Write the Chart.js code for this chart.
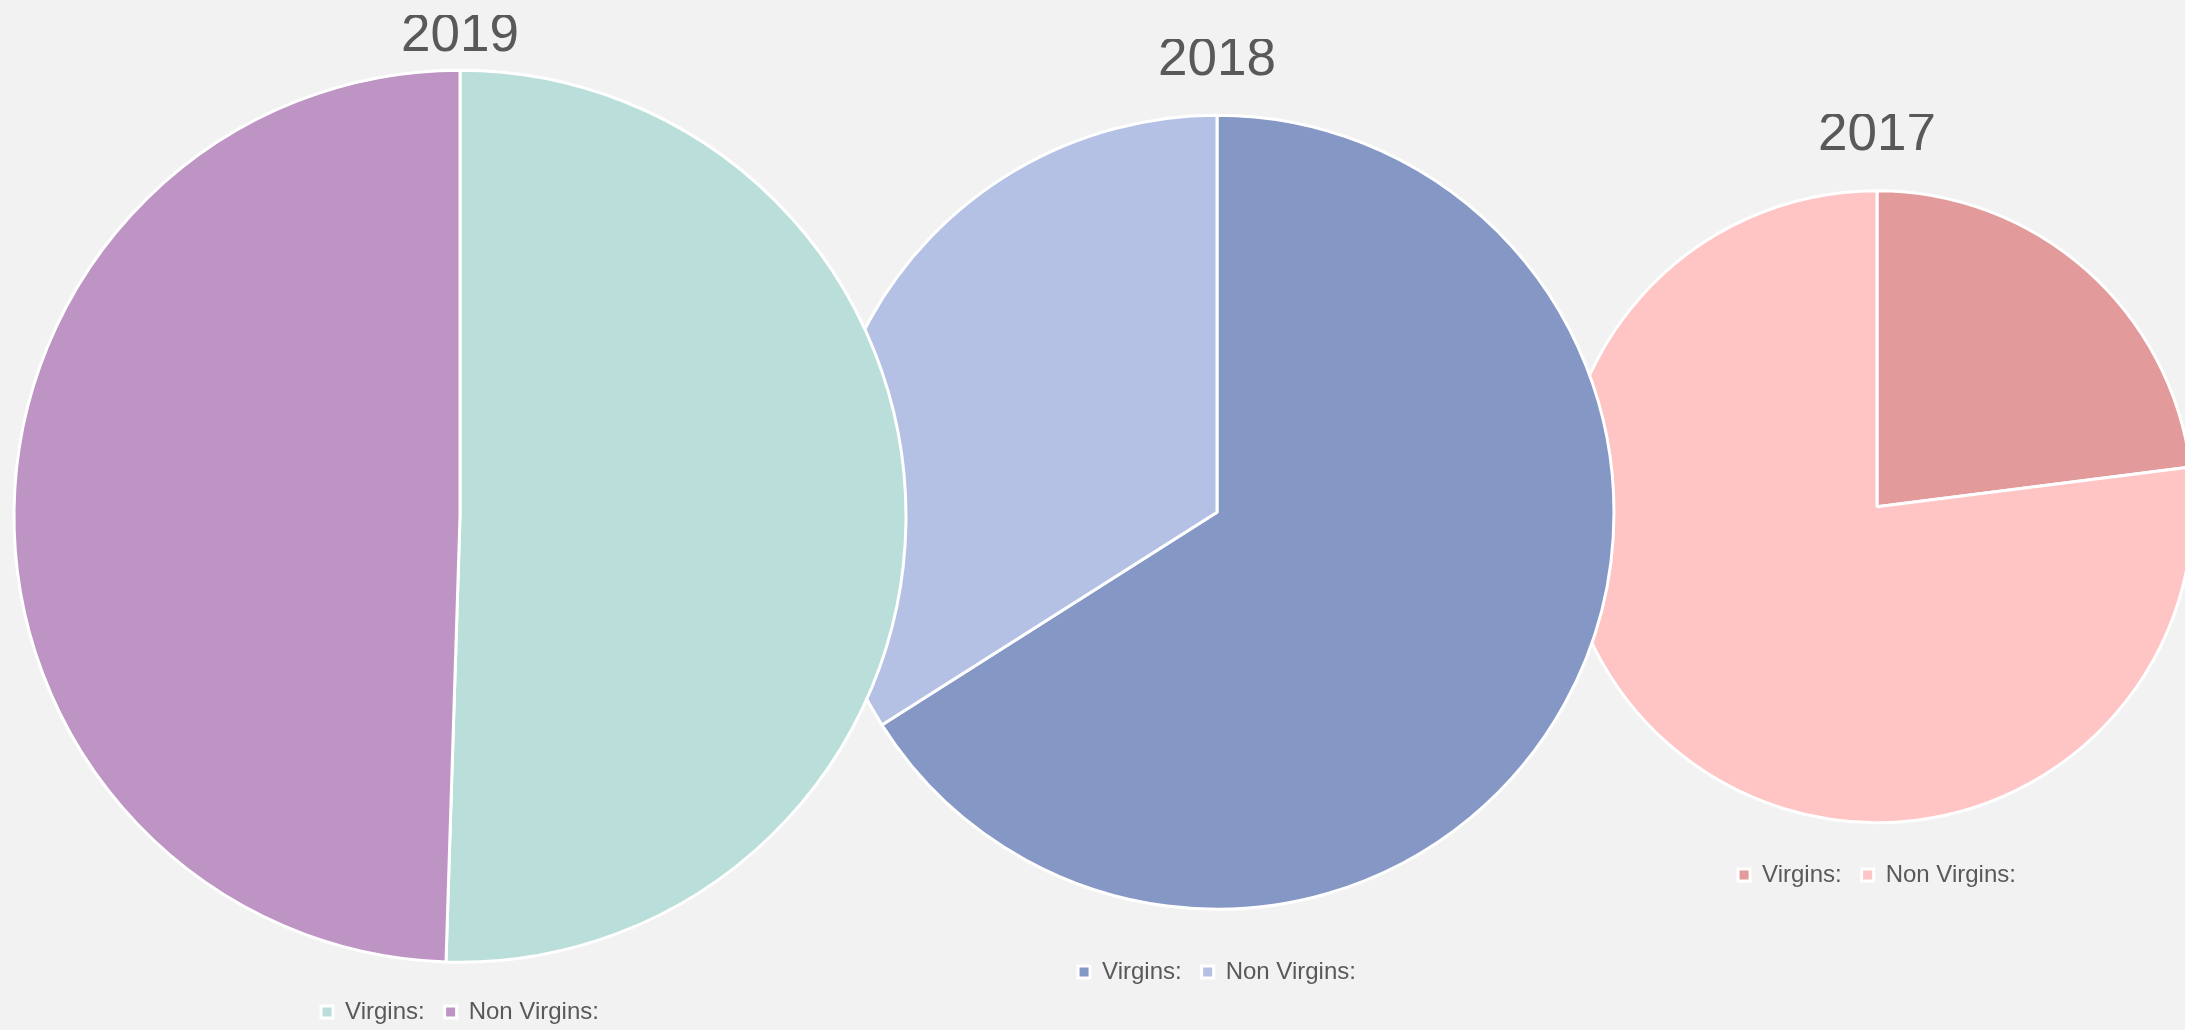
<!DOCTYPE html>
<html>
<head>
<meta charset="utf-8">
<script src="https://cdn.jsdelivr.net/npm/chart.js@4"></script>
<style>
  html, body { margin: 0; padding: 0; background: #f2f2f2; overflow: hidden; width: 2185px; height: 1030px; }
  .pie { position: absolute; }
</style>
</head>
<body>
<canvas id="pie2017" class="pie"></canvas>
<canvas id="pie2018" class="pie"></canvas>
<canvas id="pie2019" class="pie"></canvas>
<script>
// ---- data ----
const years = ["2019", "2018", "2017"];
const sliceLabels = ["Virgins:", "Non Virgins:"];
const virgins = [50.5, 66, 23];
const nonVirgins = [49.5, 34, 77];

// ---- look ----
const sliceColors = [
  ["#badfdb", "#bd94c3"],
  ["#8597c5", "#b4c1e4"],
  ["#e29a9a", "#ffc4c4"]
];
// left, top, width, height of each canvas, pie radius, title bottom padding
const boxes = [
  { left: 0,    top: 15,  width: 920, height: 1019, radius: 446, titlePad: -5 },
  { left: 767,  top: 39,  width: 900, height: 955,  radius: 397, titlePad: 3 },
  { left: 1527, top: 114, width: 700, height: 783,  radius: 316, titlePad: 14 }
];

const textColor = "#595959";
const fontFamily = "'Liberation Sans', Arial, sans-serif";

years.forEach((year, i) => {
  const canvas = document.getElementById("pie" + year);
  const b = boxes[i];
  canvas.width = b.width;
  canvas.height = b.height;
  canvas.style.left = b.left + "px";
  canvas.style.top = b.top + "px";

  new Chart(canvas, {
    type: "pie",
    data: {
      labels: sliceLabels,
      datasets: [{
        data: [virgins[i], nonVirgins[i]],
        backgroundColor: sliceColors[i],
        borderColor: "#ffffff",
        borderWidth: 3
      }]
    },
    options: {
      responsive: false,
      animation: false,
      radius: b.radius,
      layout: { padding: 0 },
      plugins: {
        title: {
          display: true,
          text: year,
          color: textColor,
          font: { family: fontFamily, size: 53, weight: "normal", lineHeight: 0.8 },
          padding: { top: 0, bottom: b.titlePad }
        },
        legend: {
          position: "bottom",
          labels: {
            color: textColor,
            font: { family: fontFamily, size: 24 },
            boxWidth: 12,
            boxHeight: 12,
            padding: 20
          }
        },
        tooltip: { enabled: false }
      }
    }
  });
});
</script>
</body>
</html>
